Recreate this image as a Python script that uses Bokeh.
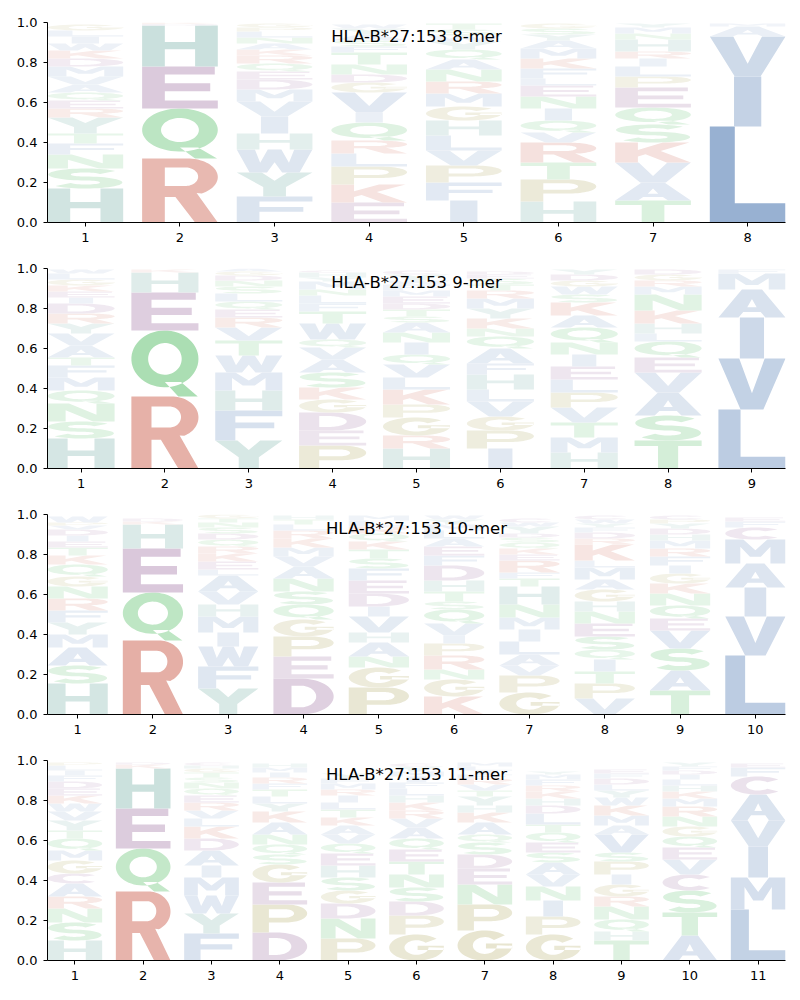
import numpy as np
from bokeh.plotting import figure
from bokeh.models import ColumnDataSource, Range1d, FixedTicker, Label, PrintfTickFormatter
from bokeh.layouts import column
from bokeh.embed import file_html
from bokeh.resources import INLINE

allele = "HLA-B*27:153"

# ---------------- data: letters bottom->top and their heights ----------------
letters_8 = ["HSNFTYREQAVMDKWILG", "RQEHDK", "FYWHIVMDEQRKANLPG", "EKPLRQIVGDNTFSAYW",
             "IFPVLHGMRNAQYWST", "HPTRVQINELFKMAYSG", "TAVKSQEPLIRHNMY", "LIVAM"]
heights_8 = [
    [.17, .1, .07, .055, .05, .08, .045, .04, .04, .04, .04, .05, .04, .04, .035, .035, .03, .03],
    [.32, .25, .21, .205, .008, .007],
    [.13, .12, .115, .08, .085, .075, .06, .05, .04, .04, .04, .03, .03, .03, .03, .02, .02],
    [.1, .09, .09, .065, .065, .09, .05, .1, .05, .04, .05, .06, .03, .03, .03, .03, .02],
    [.11, .09, .085, .075, .075, .075, .07, .065, .06, .06, .05, .05, .04, .03, .03, .03],
    [.105, .11, .085, .1, .05, .06, .06, .06, .055, .035, .05, .05, .05, .04, .03, .03, .025],
    [.11, .09, .1, .1, .09, .085, .1, .055, .05, .04, .035, .06, .03, .03, .02],
    [.48, .25, .2, .05, .015],
]

letters_9 = ["HSNQMFTAVYRDIEKGLW", "RQEHK", "YFHMWTVREQLSNDGA", "PEDGKSAVQWTFLNMYHC",
             "HRGPKLVQINASTDEMFWYC", "IPGVLHFAQNKYMRTSED", "HMTVPLEINQAKSWGDY",
             "TSAVEQLHKNMRGD", "LVIAMF"]
heights_9 = [
    [.15, .085, .09, .065, .065, .06, .04, .06, .06, .05, .05, .05, .03, .03, .03, .03, .03, .02],
    [.36, .33, .19, .1, .015],
    [.14, .15, .1, .09, .085, .075, .065, .05, .04, .04, .04, .035, .03, .025, .02, .015],
    [.115, .075, .09, .065, .06, .075, .065, .06, .04, .08, .06, .04, .04, .03, .04, .02, .025, .01],
    [.1, .065, .09, .065, .075, .06, .065, .05, .06, .05, .05, .03, .035, .03, .035, .03, .03, .02, .03, .02],
    [.1, .09, .07, .075, .06, .075, .055, .075, .06, .04, .05, .05, .05, .04, .03, .03, .02, .015],
    [.08, .075, .075, .075, .075, .065, .065, .06, .06, .075, .06, .065, .04, .04, .03, .03, .025],
    [.14, .125, .115, .1, .075, .08, .04, .05, .065, .08, .04, .03, .03, .025],
    [.295, .255, .205, .14, .08, .02],
]

letters_10 = ["HSAMYFRNGQKTEIDVPW", "RQEHKD", "YFWIMHVALEKRQDSNTG", "DEPGQSNAVMKRLTH",
              "PGNAHVIDEFSTKQRLM", "KGNRPIVQSTHDFEALMYW", "GPVALIMNHTFREKQSDYWC",
              "VPTIQSENHGAMLKRDFYWC", "TASVEQNKGIFRMHDYPC", "LVIAMCFE"]
heights_10 = [
    [.155, .09, .09, .065, .06, .06, .06, .06, .05, .06, .045, .04, .03, .03, .03, .02, .015, .03],
    [.37, .24, .22, .12, .015, .015],
    [.13, .11, .1, .07, .08, .06, .065, .08, .03, .04, .04, .035, .035, .03, .03, .025, .02, .02],
    [.18, .11, .1, .085, .075, .065, .065, .06, .05, .045, .045, .04, .03, .025, .02],
    [.135, .1, .055, .07, .05, .08, .05, .065, .065, .06, .05, .045, .04, .04, .035, .03, .025],
    [.09, .085, .05, .07, .06, .04, .06, .07, .04, .05, .055, .075, .05, .045, .04, .04, .03, .025, .02],
    [.11, .085, .05, .055, .065, .06, .06, .065, .09, .04, .03, .06, .03, .03, .03, .025, .02, .035, .02, .02],
    [.08, .075, .06, .06, .05, .065, .065, .06, .05, .06, .05, .06, .035, .08, .03, .03, .025, .02, .02, .02],
    [.12, .1, .11, .09, .06, .065, .06, .05, .05, .04, .045, .04, .04, .03, .03, .025, .02, .02],
    [.295, .195, .145, .12, .12, .06, .03, .02],
]

letters_11 = ["HSNRACGMQTYVWKEDFILP", "RQEHKD", "FYWMIADKLVREQNSTGHC", "DPEGSQNAKYLTFRIMH",
              "PNDGSHEQVAKTLIRMFY", "GPDSNTEQAVRKHLFIMYC", "GPNEDSQAKHYTVRFILM",
              "GPINVASEQTLDHKRFMY", "THQNRGIPSVAMKWYLDFE", "ATSCVEQGNRMKHLIDFY", "LMIVACFE"]
heights_11 = [
    [.1, .09, .07, .06, .065, .05, .065, .05, .06, .04, .05, .045, .04, .04, .035, .035, .03, .025, .025, .015],
    [.345, .215, .2, .2, .02, .01],
    [.135, .1, .09, .09, .06, .075, .06, .06, .04, .04, .04, .035, .035, .03, .025, .025, .02, .015, .015],
    [.14, .14, .11, .09, .05, .05, .05, .06, .055, .04, .035, .035, .03, .03, .025, .025, .02],
    [.11, .1, .075, .065, .065, .06, .06, .05, .045, .045, .04, .04, .035, .035, .03, .03, .025, .025],
    [.13, .095, .07, .07, .065, .065, .06, .055, .055, .045, .04, .04, .035, .035, .03, .03, .025, .025, .015],
    [.15, .13, .1, .08, .07, .06, .04, .06, .05, .035, .045, .03, .03, .03, .02, .02, .02, .02],
    [.13, .09, .08, .07, .06, .06, .05, .05, .05, .04, .055, .04, .035, .035, .03, .03, .025, .015],
    [.1, .045, .06, .065, .05, .06, .05, .065, .045, .09, .045, .05, .05, .04, .035, .03, .03, .025, .02],
    [.125, .115, .11, .08, .075, .06, .055, .05, .05, .05, .04, .035, .03, .03, .025, .02, .02, .02],
    [.255, .16, .155, .13, .13, .09, .045, .02],
]

panels = [("8-mer", letters_8, heights_8), ("9-mer", letters_9, heights_9),
          ("10-mer", letters_10, heights_10), ("11-mer", letters_11, heights_11)]

# ---------------- colours ----------------
base_colors = {}
for aa in "AVILMFW":
    base_colors[aa] = (65, 111, 172)
for aa in "HY":
    base_colors[aa] = (55, 138, 126)
for aa in "KR":
    base_colors[aa] = (195, 70, 49)
for aa in "DEC":
    base_colors[aa] = (122, 59, 126)
for aa in "NQST":
    base_colors[aa] = (40, 170, 60)
for aa in "GP":
    base_colors[aa] = (144, 133, 33)


def shade(aa, h):
    a = min(0.9, 0.06 + h)
    r, g, b = base_colors[aa]
    c = [int(round(255 - a * (255 - v))) for v in (r, g, b)]
    return "#%02x%02x%02x" % tuple(c)


# ---------------- a small block font in a unit box ----------------
def A_(pts):
    return np.array(pts, dtype=float)


def ell(cx, cy, rx, ry, a0, a1, n=36):
    t = np.radians(np.linspace(a0, a1, n))
    return np.c_[cx + rx * np.cos(t), cy + ry * np.sin(t)]


def stroke(pts, wx, wy):
    pts = np.asarray(pts, dtype=float)
    d = np.gradient(pts, axis=0)
    d /= np.hypot(d[:, 0], d[:, 1])[:, None]
    nx, ny = -d[:, 1], d[:, 0]
    left = np.c_[pts[:, 0] + nx * wx, pts[:, 1] + ny * wy]
    right = np.c_[pts[:, 0] - nx * wx, pts[:, 1] - ny * wy]
    return np.vstack([left, right[::-1]])


GLYPHS = {
    'A': [[A_([(0, 0), (.3, 0), (.37, .2), (.63, .2), (.7, 0), (1, 0), (.65, 1), (.35, 1)]),
           A_([(.43, .37), (.57, .37), (.5, .66)])]],
    'C': [[stroke(ell(.5, .5, .36, .39, 42, 318), .14, .11)]],
    'D': [[np.vstack([A_([(0, 0), (.45, 0)]), ell(.45, .5, .55, .5, -90, 90), A_([(0, 1)])]),
           np.vstack([A_([(.3, .2), (.45, .2)]), ell(.45, .5, .26, .3, -90, 90), A_([(.3, .8)])])]],
    'E': [[A_([(0, 0), (1, 0), (1, .19), (.3, .19), (.3, .41), (.9, .41), (.9, .6), (.3, .6),
               (.3, .81), (.96, .81), (.96, 1), (0, 1)])]],
    'F': [[A_([(0, 0), (.3, 0), (.3, .41), (.88, .41), (.88, .6), (.3, .6), (.3, .81), (1, .81),
               (1, 1), (0, 1)])]],
    'G': [[stroke(ell(.5, .5, .36, .39, 42, 360), .14, .11)],
          [A_([(.52, .4), (1, .4), (1, .57), (.52, .57)])]],
    'H': [[A_([(0, 0), (.3, 0), (.3, .42), (.7, .42), (.7, 0), (1, 0), (1, 1), (.7, 1), (.7, .6),
               (.3, .6), (.3, 1), (0, 1)])]],
    'I': [[A_([(.32, 0), (.68, 0), (.68, 1), (.32, 1)])]],
    'K': [[A_([(0, 0), (.3, 0), (.3, .3), (.4, .41), (.68, 0), (1, 0), (.6, .58), (.98, 1), (.63, 1),
               (.3, .62), (.3, 1), (0, 1)])]],
    'L': [[A_([(0, 0), (1, 0), (1, .2), (.33, .2), (.33, 1), (0, 1)])]],
    'M': [[A_([(0, 0), (.25, 0), (.25, .7), (.41, .28), (.59, .28), (.75, .7), (.75, 0), (1, 0),
               (1, 1), (.7, 1), (.5, .55), (.3, 1), (0, 1)])]],
    'N': [[A_([(0, 0), (.27, 0), (.27, .62), (.68, 0), (1, 0), (1, 1), (.73, 1), (.73, .38),
               (.32, 1), (0, 1)])]],
    'P': [[np.vstack([A_([(0, 0), (.3, 0), (.3, .36), (.62, .36)]), ell(.62, .68, .38, .32, -90, 90),
                      A_([(0, 1)])]),
           np.vstack([A_([(.3, .53), (.6, .53)]), ell(.6, .68, .16, .15, -90, 90), A_([(.3, .83)])])]],
    'Q': [[ell(.5, .57, .5, .43, 0, 360, 60)[:-1], ell(.5, .57, .25, .24, 0, 360, 60)[:-1]],
          [A_([(.5, .22), (.74, .22), (.99, 0), (.7, 0)])]],
    'R': [[np.vstack([A_([(0, 0), (.3, 0), (.3, .4), (.44, .4), (.7, 0), (1, 0), (.72, .46)]),
                      ell(.6, .71, .4, .29, -62, 90), A_([(0, 1)])]),
           np.vstack([A_([(.3, .57), (.57, .57)]), ell(.57, .715, .17, .145, -90, 90), A_([(.3, .86)])])]],
    'S': [[stroke(np.vstack([ell(.5, .7, .34, .2, 30, 270), ell(.5, .3, .34, .2, 90, -150)[1:]]),
                  .15, .1)]],
    'T': [[A_([(.35, 0), (.65, 0), (.65, .8), (1, .8), (1, 1), (0, 1), (0, .8), (.35, .8)])]],
    'V': [[A_([(.33, 0), (.67, 0), (1, 1), (.69, 1), (.5, .32), (.31, 1), (0, 1)])]],
    'W': [[A_([(.17, 0), (.4, 0), (.5, .45), (.6, 0), (.83, 0), (1, 1), (.76, 1), (.69, .42),
               (.59, 1), (.41, 1), (.31, .42), (.24, 1), (0, 1)])]],
    'Y': [[A_([(.35, 0), (.65, 0), (.65, .4), (1, 1), (.67, 1), (.5, .66), (.33, 1), (0, 1), (.35, .4)])]],
}


def build_source(letters, heights):
    xs, ys, cols = [], [], []
    for i, (seq, hs) in enumerate(zip(letters, heights)):
        pos = i + 1
        y0 = 0.0
        for aa, h in zip(seq, hs):
            gx, gy = [], []
            for poly in GLYPHS[aa]:
                rx, ry = [], []
                for ring in poly:
                    rx.append(list(pos - 0.4 + 0.8 * ring[:, 0]))
                    ry.append(list(y0 + h * ring[:, 1]))
                gx.append(rx)
                gy.append(ry)
            xs.append(gx)
            ys.append(gy)
            cols.append(shade(aa, h))
            y0 += h
    return ColumnDataSource(dict(xs=xs, ys=ys, color=cols))


figs = []
for k, (name, letters, heights) in enumerate(panels):
    n = len(letters)
    p = figure(frame_width=738, frame_height=200, output_backend="svg", toolbar_location=None,
               x_range=Range1d(0.6, n + 0.4), y_range=Range1d(0, 1),
               min_border_left=47, min_border_right=7,
               min_border_top=22 if k == 0 else 14, min_border_bottom=32)
    src = build_source(letters, heights)
    p.multi_polygons(xs="xs", ys="ys", source=src, fill_color="color", line_color=None)
    p.add_layout(Label(x=(n + 1) / 2, y=0.93, text=f"{allele} {name}", text_align="center",
                       text_baseline="middle", text_font="DejaVu Sans", text_font_size="16.5px",
                       text_color="black"))
    p.xaxis.ticker = FixedTicker(ticks=list(range(1, n + 1)))
    p.yaxis.ticker = FixedTicker(ticks=[0, 0.2, 0.4, 0.6, 0.8, 1.0])
    p.yaxis.formatter = PrintfTickFormatter(format="%.1f")
    for ax in (p.xaxis, p.yaxis):
        ax.minor_tick_line_color = None
        ax.major_tick_in = 0
        ax.major_tick_out = 4
        ax.axis_line_color = "black"
        ax.major_tick_line_color = "black"
        ax.major_label_text_color = "black"
        ax.major_label_text_font = "DejaVu Sans"
        ax.major_label_text_font_size = "13px"
        ax.major_label_standoff = 6
    p.xgrid.visible = False
    p.ygrid.visible = False
    p.outline_line_color = None
    p.background_fill_color = "white"
    p.border_fill_color = "white"
    figs.append(p)

layout = column(*figs, spacing=0)
open("out.html", "w").write(file_html(layout, INLINE))
